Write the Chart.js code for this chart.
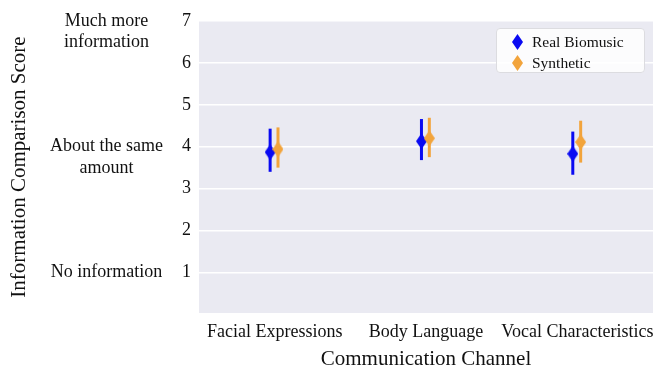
<!DOCTYPE html>
<html>
<head>
<meta charset="utf-8">
<script src="https://cdn.jsdelivr.net/npm/chart.js@4.4.1/dist/chart.umd.min.js"></script>
<style>
  body { margin: 0; background: #fff; }
  #wrap { position: relative; width: 668px; height: 370px; }
  #legend {
    position: absolute; left: 496px; top: 28px; width: 149px; height: 45px;
    background: rgba(255,255,255,0.85); border: 1px solid #dcdce0; border-radius: 4px;
    font-family: "Liberation Serif", serif; font-size: 15.5px; color: #111;
    box-sizing: border-box; padding-top: 2px;
  }
  #legend .item { display: flex; align-items: center; height: 21px; padding-left: 15px; }
  #legend canvas { margin-right: 9px; }
</style>
</head>
<body>
<div id="wrap">
  <canvas id="chart" width="668" height="370"></canvas>
  <div id="legend"></div>
</div>
<script>
// data
const categories = ['Facial Expressions', 'Body Language', 'Vocal Characteristics'];
const realMean = [3.87, 4.13, 3.83];
const realLow = [3.40, 3.68, 3.33];
const realHigh = [4.43, 4.66, 4.36];
const synthMean = [3.94, 4.20, 4.11];
const synthLow = [3.50, 3.75, 3.62];
const synthHigh = [4.46, 4.69, 4.62];
const yTicks = [1, 2, 3, 4, 5, 6, 7];
const scaleTicks = [1, 4, 7];
const scaleNames = {
  1: 'No information',
  4: ['', 'About the same', 'amount'],
  7: ['', 'Much more', 'information']
};

const BLUE = '#0a0af2';
const ORANGE = '#f2a43c';
const FONT = '"Liberation Serif", "Times New Roman", serif';
const realShift = -0.03, synthShift = 0.022;

function diamond(color, w, h) {
  const c = document.createElement('canvas');
  c.width = w; c.height = h;
  const ctx = c.getContext('2d');
  ctx.fillStyle = color;
  ctx.beginPath();
  ctx.moveTo(w / 2, 0);
  ctx.lineTo(w, h / 2);
  ctx.lineTo(w / 2, h);
  ctx.lineTo(0, h / 2);
  ctx.closePath();
  ctx.fill();
  return c;
}

function points(means, shift) {
  return means.map((m, i) => ({ x: i + shift, y: m }));
}
function bars(low, high, shift) {
  return low.map((l, i) => ({ x: i + shift, y: [l, high[i]] }));
}

// no overflow padding, the plot box is fixed by layout padding
function noPad(s) {
  s.paddingTop = 0; s.paddingBottom = 0; s.paddingLeft = 0; s.paddingRight = 0;
}

const plotBg = {
  id: 'plotBg',
  beforeDraw(chart) {
    const a = chart.chartArea, ctx = chart.ctx;
    ctx.save();
    ctx.fillStyle = '#eaeaf2';
    ctx.fillRect(a.left, a.top, a.right - a.left, a.bottom - a.top);
    ctx.restore();
  }
};

Chart.defaults.font.family = FONT;
Chart.defaults.color = '#111';

const chart = new Chart(document.getElementById('chart'), {
  type: 'scatter',
  data: {
    datasets: [
      { type: 'bar', label: 'Real Biomusic CI', data: bars(realLow, realHigh, realShift),
        backgroundColor: BLUE, maxBarThickness: 3, grouped: false, order: 3 },
      { type: 'bar', label: 'Synthetic CI', data: bars(synthLow, synthHigh, synthShift),
        backgroundColor: ORANGE, maxBarThickness: 3, grouped: false, order: 3 },
      { type: 'scatter', label: 'Real Biomusic', data: points(realMean, realShift),
        pointStyle: diamond(BLUE, 11, 16), order: 2 },
      { type: 'scatter', label: 'Synthetic', data: points(synthMean, synthShift),
        pointStyle: diamond(ORANGE, 11, 16), order: 1 }
    ]
  },
  options: {
    responsive: false,
    animation: false,
    layout: { autoPadding: false, padding: { top: 21, right: 15, bottom: 0, left: 0 } },
    plugins: { legend: { display: false }, tooltip: { enabled: false } },
    scales: {
      x: {
        type: 'linear', min: -0.5, max: 2.5, offset: false,
        grid: { display: false, drawTicks: false, offset: false }, border: { display: false },
        afterBuildTicks: s => { s.ticks = categories.map((c, i) => ({ value: i })); },
        afterFit: s => { s.height = 57; noPad(s); },
        ticks: {
          autoSkip: false, maxRotation: 0, padding: 8,
          font: { size: 18 },
          callback: v => categories[v]
        },
        title: { display: true, text: 'Communication Channel', font: { size: 21 }, padding: { top: 0, bottom: -2 } }
      },
      y: {
        type: 'linear', position: 'left', weight: 0, min: 0.03, max: 7,
        grid: { color: '#ffffff', lineWidth: 1.5, drawTicks: false }, border: { display: false },
        afterBuildTicks: s => { s.ticks = yTicks.map(v => ({ value: v })); },
        afterFit: s => { s.width = 24; noPad(s); },
        ticks: { padding: 8, font: { size: 18 } }
      },
      yText: {
        type: 'linear', position: 'left', weight: 1, min: 0.03, max: 7,
        grid: { display: false, drawTicks: false }, border: { display: false },
        afterBuildTicks: s => { s.ticks = scaleTicks.map(v => ({ value: v })); },
        afterFit: s => { s.width = 175; noPad(s); },
        ticks: {
          crossAlign: 'center', padding: 12, font: { size: 18, lineHeight: 1.2 },
          callback: v => scaleNames[v]
        },
        title: { display: true, text: 'Information Comparison Score', font: { size: 21 }, padding: 7 }
      }
    }
  },
  plugins: [plotBg]
});

// legend inside the plot, built from the point datasets
const legend = document.getElementById('legend');
const legendColor = { 'Real Biomusic': BLUE, 'Synthetic': ORANGE };
chart.data.datasets.filter(d => d.type === 'scatter').forEach(d => {
  const row = document.createElement('div');
  row.className = 'item';
  row.appendChild(diamond(legendColor[d.label], 11, 16));
  row.appendChild(document.createTextNode(d.label));
  legend.appendChild(row);
});
</script>
</body>
</html>
